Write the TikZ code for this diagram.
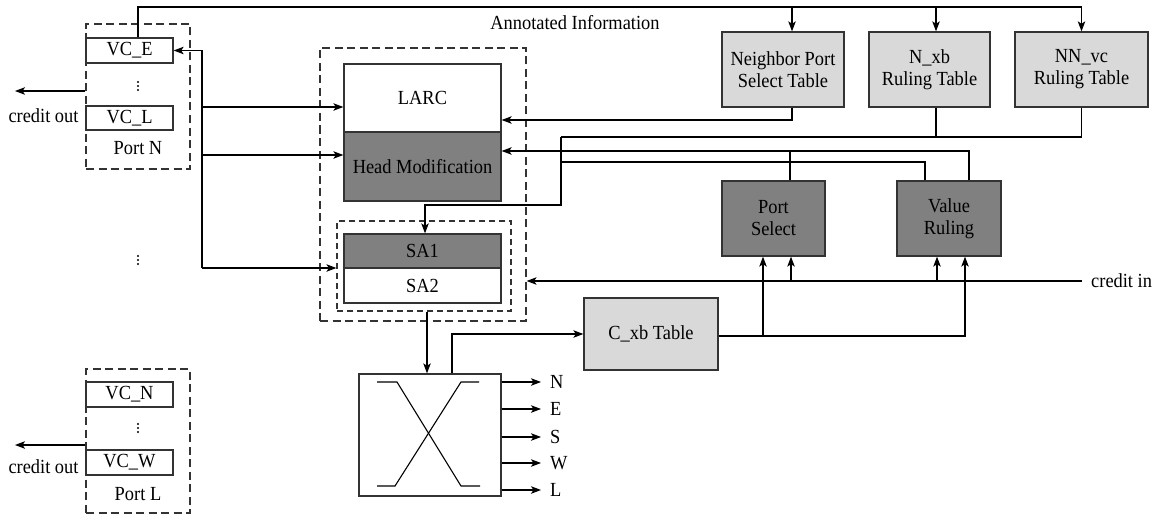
\documentclass[tikz,border=0pt]{standalone}
\usepackage{fontspec}
\setmainfont{Liberation Serif}[FakeStretch=0.92]
\usetikzlibrary{arrows.meta,calc}
\definecolor{darkfill}{HTML}{808080}
\definecolor{lightfill}{HTML}{D9D9D9}
\definecolor{edge}{HTML}{333333}
\begin{document}
\begin{tikzpicture}[x=1pt,y=-1pt,
  font=\fontsize{20}{22}\selectfont,
  wire/.style={line width=1.1pt, draw=black},
  arr/.style={wire, -{Stealth[length=10pt,width=7.5pt,inset=2.5pt]}},
  box/.style={draw=edge, line width=1.3pt, inner sep=0pt, align=center},
  vcbox/.style={box, fill=white, minimum width=87pt, minimum height=25pt},
  darkbox/.style={box, fill=darkfill},
  lightbox/.style={box, fill=lightfill},
  frame/.style={draw=edge, line width=1.2pt, dash pattern=on 8pt off 4.5pt, inner sep=0pt},
  subframe/.style={draw=edge, line width=1.2pt, dash pattern=on 6pt off 4pt, inner sep=0pt},
  lbl/.style={inner sep=1pt}
]
\useasboundingbox (0,0) rectangle (1166,516);

% ---------- input ports ----------
\node[frame, minimum width=104pt, minimum height=145pt] (portN) at (138,96.5) {};
\node[vcbox] (vcE) at (129.5,50.5) {VC\_E};
\node[vcbox, minimum height=24pt] (vcL) at (129.5,118) {VC\_L};
\foreach \yy in {82,86,90} \fill (138,\yy) circle (1.2pt);
\node[lbl] (lblN) at (138,148) {Port N};
\node[lbl] (coN) at (43.5,116) {credit out};
\coordinate (coNend) at (15,91);
\draw[arr] (portN.west |- coNend) -- (coNend);

\foreach \yy in {256,260,264} \fill (138,\yy) circle (1.2pt);

\node[frame, minimum width=104pt, minimum height=144pt] (portL) at (138,441) {};
\node[vcbox] (vcN) at (129.5,394.5) {VC\_N};
\node[vcbox] (vcW) at (129.5,462.5) {VC\_W};
\foreach \yy in {424,428,432} \fill (138,\yy) circle (1.2pt);
\node[lbl] (lblL) at (138,494) {Port L};
\node[lbl] (coL) at (43.5,467) {credit out};
\coordinate (coLend) at (15,445);
\draw[arr] (portL.west |- coLend) -- (coLend);

% ---------- routing core ----------
\node[frame, minimum width=206pt, minimum height=273pt] (core) at (423,184.5) {};
\node[box, fill=white, minimum width=157pt, minimum height=68pt] (larc) at (422.5,98) {LARC};
\node[darkbox, minimum width=157pt, minimum height=69pt] (hm) at (422.5,166.5) {Head Modification};
\node[subframe, minimum width=174pt, minimum height=90pt] (saframe) at (424,266) {};
\node[darkbox, minimum width=157pt, minimum height=34pt] (sa1) at (422.5,251) {SA1};
\node[box, fill=white, minimum width=157pt, minimum height=35pt] (sa2) at (422.5,285.5) {SA2};

\node[lbl] (annot) at (575,23) {Annotated Information};

% ---------- tables ----------
\node[lightbox, minimum width=122pt, minimum height=75pt] (nps) at (783,69.5) {Neighbor Port\\Select Table};
\node[lightbox, minimum width=121pt, minimum height=75pt] (nxb) at (929.5,69.5) {N\_xb\\Ruling Table};
\node[lightbox, minimum width=133pt, minimum height=75pt] (nnvc) at (1081.5,69.5) {NN\_vc\\Ruling Table};

% ---------- decision units ----------
\node[darkbox, minimum width=103pt, minimum height=75pt] (ps) at (773.5,218.5) {Port\\Select};
\node[darkbox, minimum width=104pt, minimum height=75pt] (vr) at (949,218.5) {Value\\Ruling};
\node[lightbox, minimum width=134pt, minimum height=72pt] (cxb) at (651,334) {C\_xb Table};

% ---------- crossbar ----------
\node[box, fill=white, minimum width=142pt, minimum height=122pt] (xbar) at (430,435) {};
\draw[wire] (377,382) -- (397,382) -- (461,486) -- (480,486);
\draw[wire] (479,382) -- (461,382) -- (395,486) -- (377,486);
\foreach \yy/\dd in {382/N,409/E,437/S,463/W,490/L}{
  \node[lbl, anchor=west] (out\dd) at (549,\yy) {\dd};
  \draw[arr] (xbar.east |- out\dd) -- ([xshift=-8pt]out\dd.west);
}

% ---------- annotation bus along the top ----------
\coordinate (busTop) at (138,7);
\coordinate (npsIn) at ([xshift=9pt]nps.north);
\coordinate (nxbIn) at ([xshift=6.5pt]nxb.north);
\draw[arr] (vcE.north -| portN.north) -- (busTop) -| (nnvc.north);
\draw[arr] (npsIn |- busTop) -- (npsIn);
\draw[arr] (nxbIn |- busTop) -- (nxbIn);

% ---------- flit bus on the left ----------
\coordinate (busB) at (202,268);
\coordinate (larcIn) at ([yshift=-9pt]larc.west);
\coordinate (hmInL) at ([yshift=11.5pt]hm.west);
\draw[arr] (busB) |- (vcE.east);
\draw[arr] (busB) -- (saframe.west |- busB);
\draw[arr] (busB |- larcIn) -- (larcIn);
\draw[arr] (busB |- hmInL) -- (hmInL);

% ---------- table outputs ----------
\coordinate (npsOut) at ([xshift=9pt]nps.south);
\coordinate (larcInR) at ([yshift=-22pt]larc.east);
\draw[arr] (npsOut) |- (larcInR);
\coordinate (mj) at (561,137);
\coordinate (mk) at (561,205);
\coordinate (nxbOut) at ([xshift=6.5pt]nxb.south);
\draw[wire] (nnvc.south) |- (mj);
\draw[wire] (nxbOut) -- (nxbOut |- mj);
\draw[arr] (mj) -- (mk) -| ([xshift=2.5pt]sa1.north);

% ---------- decision outputs ----------
\coordinate (hmInR) at ([yshift=15.5pt]hm.east);
\coordinate (vrR) at ([xshift=20pt]vr.north);
\coordinate (vrL) at ([xshift=-24pt]vr.north);
\coordinate (psUp) at ([xshift=16.5pt]ps.north);
\coordinate (mv) at (561,162);
\draw[arr] (vrR) |- (hmInR);
\draw[wire] (psUp) -- (psUp |- hmInR);
\draw[wire] (vrL) |- (mv);

% ---------- credit in ----------
\node[lbl, anchor=west, inner sep=0pt] (ciLbl) at (1091,281) {credit in};
\coordinate (ciEnd) at (1082,281);
\draw[arr] (ciEnd) -- (core.east |- ciEnd);
\coordinate (psC) at ([xshift=17.5pt]ps.south);
\coordinate (vrC) at ([xshift=-12pt]vr.south);
\draw[arr] (psC |- ciEnd) -- (psC);
\draw[arr] (vrC |- ciEnd) -- (vrC);

% ---------- C_xb table ----------
\coordinate (cxOut) at ([yshift=-2pt]cxb.east);
\coordinate (vrX) at ([xshift=16pt]vr.south);
\coordinate (psX) at ([xshift=-10.5pt]ps.south);
\draw[arr] (cxOut) -| (vrX);
\draw[arr] (psX |- cxOut) -- (psX);

% ---------- crossbar links ----------
\coordinate (xin) at ([xshift=-3pt]xbar.north);
\coordinate (xout) at ([xshift=22pt]xbar.north);
\draw[arr] (xin |- saframe.south) -- (xin);
\draw[arr] (xout) |- (cxb.west);
\end{tikzpicture}
\end{document}
